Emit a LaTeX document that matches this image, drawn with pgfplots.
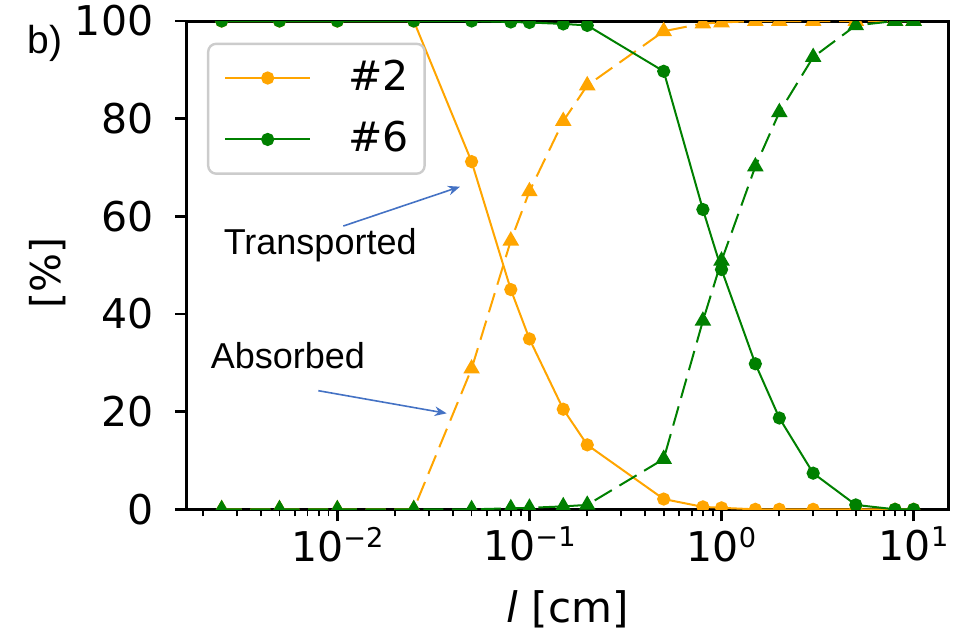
\documentclass[border=0pt]{standalone}
\usepackage{fontspec}
\setmainfont{DejaVu Sans}
\newfontfamily\arial{Liberation Sans}
\usepackage{pgfplots}
\pgfplotsset{compat=1.18}
\usepackage{pgfplotstable}
\usetikzlibrary{arrows.meta}
\definecolor{morange}{HTML}{FFA500}
\definecolor{mgreen}{HTML}{008000}
\definecolor{arrowblue}{HTML}{4472C4}

\pgfplotstableread{
x T2 A2 T6 A6
0.0025 100 0 100 0
0.005 100 0 100 0
0.01 100 0 100 0
0.025 100 0 100 0
0.05 71.2 28.8 100 0
0.08 45.0 55.0 99.8 0.2
0.1 34.9 65.1 99.7 0.3
0.15 20.5 79.5 99.4 0.6
0.2 13.2 86.8 99.1 0.9
0.5 2.1 97.9 89.7 10.3
0.8 0.5 99.5 61.4 38.6
1 0.3 99.7 49.1 50.9
1.5 0 100 29.8 70.2
2 0 100 18.7 81.3
3 0 100 7.4 92.6
5 0 100 0.9 99.1
8 0 100 0 100
10 0 100 0 100
}\data

\newcommand\tl{\fontsize{10.25}{12}\selectfont}
\newcommand\tenpow[1]{10\raisebox{3.5pt}{\fontsize{6.8}{8}\selectfont #1}}

\begin{document}
\begin{tikzpicture}
\path[use as bounding box] (0pt,0pt) rectangle (243.75pt,-158.5pt);
\begin{axis}[
  at={(46.75pt,-127.325pt)}, anchor=south west,
  scale only axis, width=190.25pt, height=122.075pt,
  xmode=log, xmin=0.00165, xmax=15.1, ymin=0, ymax=100,
  xtick={0.01,0.1,1,10},
  xticklabels={\tenpow{−2},\tenpow{−1},\tenpow{0},\tenpow{1}},
  minor xtick={0.002,0.003,0.004,0.005,0.006,0.007,0.008,0.009,
    0.02,0.03,0.04,0.05,0.06,0.07,0.08,0.09,
    0.2,0.3,0.4,0.5,0.6,0.7,0.8,0.9,
    2,3,4,5,6,7,8,9},
  ytick={0,20,40,60,80,100},
  tick align=outside, tick pos=left,
  major tick length=3pt, minor tick length=1.75pt,
  every major tick/.style={line width=0.6pt,black},
  every minor tick/.style={line width=0.45pt,black},
  axis line style={line width=0.75pt},
  tick label style={font=\tl},
  /pgf/number format/assume math mode=true,
  yticklabel style={inner sep=0pt, xshift=-5.25pt},
  xticklabel style={inner sep=0pt, yshift=-1.25pt},
  xlabel={\textit{l} [cm]},
  ylabel={[\%]},
  xlabel style={font=\fontsize{10.5}{12}\selectfont, at={(axis description cs:0.5,-0.204)}, anchor=center},
  ylabel style={font=\tl, at={(axis description cs:-0.1827,0.484)}, anchor=center},
  clip marker paths=true,
  legend style={at={(rel axis cs:0,1)}, anchor=north west, xshift=5pt, yshift=-5.4pt,
    draw=black!20, rounded corners=2pt, line width=0.6pt,
    inner xsep=4pt, inner ysep=4pt, row sep=6.25pt, column sep=9.25pt, font=\tl,
    nodes={inner sep=0pt}},
  legend cell align=left,
  legend image code/.code={\draw[mark repeat=2,mark phase=2,#1] plot coordinates {(0pt,0pt) (10.625pt,0pt) (21.25pt,0pt)};},
]
\addplot[morange, line width=0.5pt, mark=*, mark size=1.4pt] table[x=x,y=T2] {\data};
\addlegendentry{\#2}
\addplot[morange, line width=0.5pt, dash pattern=on 5pt off 2.2pt, mark=triangle*, mark size=1.9pt, mark options={solid}, forget plot] table[x=x,y=A2] {\data};
\addplot[mgreen, line width=0.5pt, mark=*, mark size=1.4pt] table[x=x,y=T6] {\data};
\addlegendentry{\#6}
\addplot[mgreen, line width=0.5pt, dash pattern=on 5pt off 2.2pt, mark=triangle*, mark size=1.9pt, mark options={solid}, forget plot] table[x=x,y=A6] {\data};
\end{axis}
\node[font=\arial\fontsize{9.75}{11}\selectfont] at (11.25pt,-10.75pt) {b)};
\node[font=\arial\fontsize{9}{11}\selectfont, anchor=base west, inner sep=0pt] at (55.75pt,-63.5pt) {Transported};
\node[font=\arial\fontsize{9}{11}\selectfont, anchor=base west, inner sep=0pt] at (52.5pt,-92pt) {Absorbed};
\draw[arrowblue, line width=0.4pt, -{Stealth[length=3pt,width=2.4pt]}] (85.83pt,-56.5pt) -- (115pt,-46.67pt);
\draw[arrowblue, line width=0.4pt, -{Stealth[length=3pt,width=2.4pt]}] (79.58pt,-97.67pt) -- (111.67pt,-103.33pt);
\end{tikzpicture}
\end{document}
